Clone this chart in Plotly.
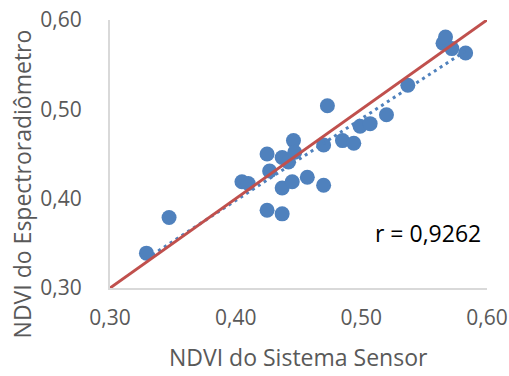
import numpy as np
import plotly.graph_objects as go

# NDVI pairs: sensor system (x) vs. spectroradiometer (y)
ndvi_sensor = [0.329, 0.347, 0.405, 0.410, 0.425, 0.427, 0.425, 0.437, 0.437, 0.442,
               0.437, 0.445, 0.446, 0.447, 0.457, 0.470, 0.470, 0.473, 0.485, 0.494,
               0.499, 0.507, 0.520, 0.537, 0.565, 0.567, 0.572, 0.583]
ndvi_espectro = [0.339, 0.379, 0.419, 0.417, 0.450, 0.431, 0.387, 0.383, 0.446, 0.441,
                 0.412, 0.419, 0.465, 0.452, 0.424, 0.415, 0.460, 0.504, 0.465, 0.462,
                 0.481, 0.484, 0.494, 0.527, 0.574, 0.581, 0.568, 0.563]

tick_vals = [0.30, 0.40, 0.50, 0.60]
tick_text = ["0,30", "0,40", "0,50", "0,60"]
one_to_one = [0.30, 0.60]
r_label = "r = 0,9262"

blue = "#4F81BD"
red = "#C0504D"
gray_text = "#595959"
axis_gray = "#D9D9D9"
font = "Open Sans"

# linear trend line over the data range
slope, intercept = np.polyfit(ndvi_sensor, ndvi_espectro, 1)
tx = np.array([min(ndvi_sensor), max(ndvi_sensor)])
ty = slope * tx + intercept

fig = go.Figure()
fig.add_trace(go.Scatter(x=ndvi_sensor, y=ndvi_espectro, mode="markers",
                         marker=dict(color=blue, size=15, line=dict(width=0))))
fig.add_trace(go.Scatter(x=tx, y=ty, mode="lines",
                         line=dict(color=blue, width=3, dash="3px,4px")))
fig.add_trace(go.Scatter(x=one_to_one, y=one_to_one, mode="lines",
                         line=dict(color=red, width=3)))

axis_common = dict(range=[0.30, 0.60], tickvals=tick_vals, ticktext=tick_text,
                   showgrid=False, zeroline=False, showline=True, automargin=False,
                   linecolor=axis_gray, linewidth=2, ticks="",
                   tickfont=dict(family=font, size=21, color=gray_text))

fig.update_layout(
    width=509, height=376,
    margin=dict(l=110, r=22, t=20, b=88),
    paper_bgcolor="white", plot_bgcolor="white",
    showlegend=False,
    xaxis=dict(**axis_common, ticklabelstandoff=10),
    yaxis=dict(**axis_common, ticklabelstandoff=22),
    annotations=[
        dict(text="NDVI do Sistema Sensor", xref="paper", yref="paper",
             x=0.5, y=-0.257, xanchor="center", yanchor="middle", showarrow=False,
             font=dict(family=font, size=23, color=gray_text)),
        dict(text="NDVI do Espectroradiômetro", xref="paper", yref="paper",
             x=-0.231, y=0.39, xanchor="center", yanchor="middle", showarrow=False,
             textangle=-90, font=dict(family=font, size=23, color=gray_text)),
        dict(text=r_label, xref="paper", yref="paper",
             x=0.843, y=0.205, xanchor="center", yanchor="middle", showarrow=False,
             font=dict(family=font, size=23, color="#000000")),
    ],
)

fig.write_html("out.html")
